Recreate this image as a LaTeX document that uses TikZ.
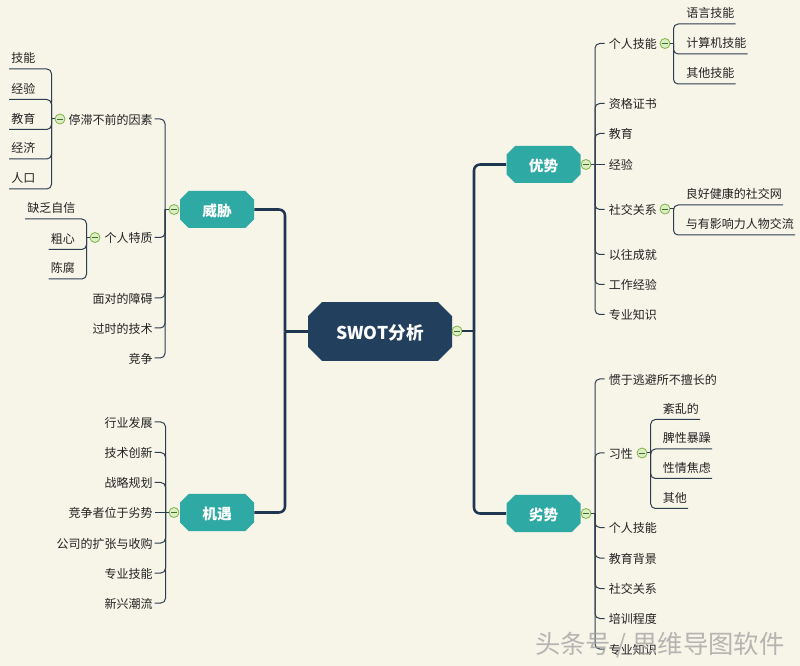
\documentclass[tikz,border=0pt]{standalone}
\usepackage{fontspec}
\setmainfont{Noto Sans CJK SC}
\definecolor{paper}{HTML}{F7F4E8}
\definecolor{navy}{HTML}{233F5E}
\definecolor{teal2}{HTML}{2FA9A3}
\definecolor{ink}{HTML}{222222}
\definecolor{wire}{HTML}{2C3E50}
\definecolor{foldline}{HTML}{7FB24A}
\definecolor{foldfill}{HTML}{DCEFC4}
\definecolor{foldminus}{HTML}{3F6E2A}
\tikzset{
  x=0.75pt,y=-0.75pt,
  txt/.style={font=\fontsize{9}{9}\selectfont,text=ink,text height=8.6pt,text depth=1pt,inner ysep=0pt},
  leafr/.style={txt,anchor=west,inner xsep=3pt},
  leafl/.style={txt,anchor=east,inner xsep=1.2pt},
  ulr/.style={txt,anchor=south east,inner xsep=0.6pt,inner ysep=3.4pt},
  ull/.style={txt,anchor=south west,inner xsep=1.5pt,inner ysep=3.4pt},
  wireline/.style={draw=wire,line width=0.75pt,rounded corners=3.5pt},
  mainline/.style={draw=navy!85!black,line width=1.9pt,rounded corners=4.5pt},
  foldmark/.style={circle,draw=foldline,fill=foldfill,line width=0.6pt,minimum size=7.5pt,inner sep=0pt,
    path picture={\draw[foldminus,line width=0.5pt] ([xshift=-2.6pt]path picture bounding box.center) -- ([xshift=2.6pt]path picture bounding box.center);}},
  octofill/.style n args={2}{
    path picture={\fill[#1]
      ([xshift=#2]path picture bounding box.north west) --
      ([xshift=-#2]path picture bounding box.north east) --
      ([yshift=-#2]path picture bounding box.north east) --
      ([yshift=#2]path picture bounding box.south east) --
      ([xshift=-#2]path picture bounding box.south east) --
      ([xshift=#2]path picture bounding box.south west) --
      ([yshift=#2]path picture bounding box.south west) --
      ([yshift=-#2]path picture bounding box.north west) -- cycle;}},
  branchbox/.style={rectangle,octofill={teal2}{6.5pt},text=white,font=\fontsize{11}{11}\selectfont\bfseries,
    minimum width=55.5pt,minimum height=27.75pt,inner sep=0pt,text height=11.4pt,text depth=1pt},
  rootbox/.style={rectangle,octofill={navy}{10.5pt},text=white,font=\fontsize{13.2}{13.2}\selectfont\bfseries,
    minimum width=108pt,minimum height=44pt,inner sep=0pt,text height=13pt,text depth=1pt},
  stamp/.style={font=\fontsize{19}{19}\selectfont,text=gray!75,text opacity=0.75,inner sep=0pt}
}
\begin{document}
\begin{tikzpicture}
\fill[paper] (0,0) rectangle (800,666);
\useasboundingbox (0,0) rectangle (800,666);

% root and main branches
\node[rootbox] (root) at (380,331.5) {SWOT分析};
\node[branchbox] (you) at (543.5,164.5) {优势};
\node[branchbox] (lie) at (543.5,513.5) {劣势};
\node[branchbox] (wei) at (217,209.5) {威胁};
\node[branchbox] (ji) at (217,512.5) {机遇};
\node[foldmark] (frootr) at (457,331) {};
\coordinate (rr) at (474,331);
\coordinate (rl) at (285,331.5);
\draw[mainline] (frootr.east) -- (rr);
\draw[mainline] (rr) |- (you.west);
\draw[mainline] (rr) |- (lie.west);
\draw[mainline] (root.west) -- (rl);
\draw[mainline] (rl) |- (wei.east);
\draw[mainline] (rl) |- (ji.east);

% ---- you shi
\node[foldmark] (fyou) at (586,164.5) {};
\coordinate (ty) at (595,164.5);
\node[leafr] (y1) at (604.5,43.5) {个人技能};
\node[leafr] (y2) at (604.5,103.5) {资格证书};
\node[leafr] (y3) at (604.5,133.5) {教育};
\node[leafr] (y4) at (604.5,164.5) {经验};
\node[leafr] (y5) at (604.5,209.5) {社交关系};
\node[leafr] (y6) at (604.5,254.5) {以往成就};
\node[leafr] (y7) at (604.5,284.5) {工作经验};
\node[leafr] (y8) at (604.5,314.5) {专业知识};
\foreach \n in {y1,y2,y3,y5,y6,y7,y8} \draw[wireline] (ty) |- (\n.west);
\draw[wireline] (fyou.east) -- (y4.west);

\node[foldmark] (fy1) at (665,43.5) {};
\coordinate (ty1) at (673.5,43.5);
\node[ulr] (y11) at (735.5,24) {语言技能};
\node[ulr] (y12) at (747.5,54) {计算机技能};
\node[ulr] (y13) at (735.5,84) {其他技能};
\draw[wireline] (fy1.east) -- (ty1);
\foreach \n in {y11,y12,y13} \draw[wireline] (ty1) |- (\n.south east);

\node[foldmark] (fy5) at (665,209) {};
\coordinate (ty5) at (673.5,209);
\node[ulr] (y51) at (783,205) {良好健康的社交网};
\node[ulr] (y52) at (795,235) {与有影响力人物交流};
\draw[wireline] (fy5.east) -- (ty5);
\foreach \n in {y51,y52} \draw[wireline] (ty5) |- (\n.south east);

% ---- lie shi
\node[foldmark] (flie) at (586,513.5) {};
\coordinate (tl) at (595,513.5);
\node[leafr] (l1) at (604.5,379) {惯于逃避所不擅长的};
\node[leafr] (l2) at (604.5,453) {习性};
\node[leafr] (l3) at (604.5,527.5) {个人技能};
\node[leafr] (l4) at (604.5,558) {教育背景};
\node[leafr] (l5) at (604.5,588.5) {社交关系};
\node[leafr] (l6) at (604.5,618.5) {培训程度};
\node[leafr] (l7) at (604.5,649) {专业知识};
\draw[wireline] (flie.east) -- (tl);
\foreach \n in {l1,l2,l3,l4,l5,l6,l7} \draw[wireline] (tl) |- (\n.west);

\node[foldmark] (fl2) at (642,453) {};
\coordinate (tl2) at (650.7,453);
\node[ulr] (l21) at (700,419.5) {紊乱的};
\node[ulr] (l22) at (712,449) {脾性暴躁};
\node[ulr] (l23) at (712,478.5) {性情焦虑};
\node[ulr] (l24) at (688,508.5) {其他};
\draw[wireline] (fl2.east) -- (tl2);
\foreach \n in {l21,l22,l23,l24} \draw[wireline] (tl2) |- (\n.south east);

% ---- wei xie
\node[foldmark] (fwei) at (174,209.5) {};
\coordinate (tw) at (165,209.5);
\node[leafl] (w1) at (154.5,119) {停滞不前的因素};
\node[leafl] (w2) at (154.5,237.5) {个人特质};
\node[leafl] (w3) at (154.5,298) {面对的障碍};
\node[leafl] (w4) at (154.5,328) {过时的技术};
\node[leafl] (w5) at (154.5,358) {竞争};
\draw[wireline] (fwei.west) -- (tw);
\foreach \n in {w1,w2,w3,w4,w5} \draw[wireline] (tw) |- (\n.east);

\node[foldmark] (fw1) at (60,119) {};
\coordinate (tw1) at (51.5,119);
\node[ull] (w11) at (9,69) {技能};
\node[ull] (w12) at (9,99.5) {经验};
\node[ull] (w13) at (9,129.5) {教育};
\node[ull] (w14) at (9,159) {经济};
\node[ull] (w15) at (9,189) {人口};
\draw[wireline] (fw1.west) -- (tw1);
\foreach \n in {w11,w12,w13,w14,w15} \draw[wireline] (tw1) |- (\n.south west);

\node[foldmark] (fw2) at (95,237.5) {};
\coordinate (tw2) at (86.5,237.5);
\node[ull] (w21) at (25,219) {缺乏自信};
\node[ull] (w22) at (48.5,249.5) {粗心};
\node[ull] (w23) at (48.5,279) {陈腐};
\draw[wireline] (fw2.west) -- (tw2);
\foreach \n in {w21,w22,w23} \draw[wireline] (tw2) |- (\n.south west);

% ---- ji yu
\node[foldmark] (fji) at (174,512.5) {};
\coordinate (tj) at (165.5,512.5);
\node[leafl] (j1) at (154.5,422) {行业发展};
\node[leafl] (j2) at (154.5,452.5) {技术创新};
\node[leafl] (j3) at (154.5,482.5) {战略规划};
\node[leafl] (j4) at (154.5,512.5) {竞争者位于劣势};
\node[leafl] (j5) at (154.5,543) {公司的扩张与收购};
\node[leafl] (j6) at (154.5,573) {专业技能};
\node[leafl] (j7) at (154.5,603) {新兴潮流};
\foreach \n in {j1,j2,j3,j5,j6,j7} \draw[wireline] (tj) |- (\n.east);
\draw[wireline] (fji.west) -- (j4.east);

% watermark
\node[stamp,anchor=west] (mark) at (535,645) {头条号 / 思维导图软件};
\end{tikzpicture}
\end{document}
